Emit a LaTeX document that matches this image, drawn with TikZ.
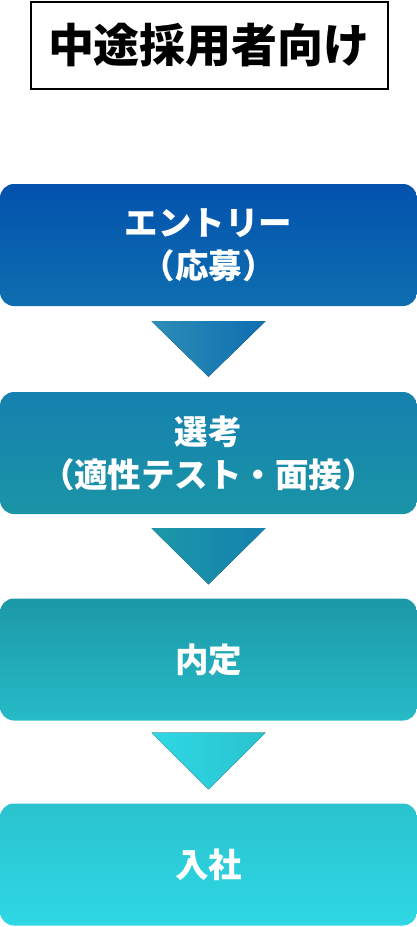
\documentclass[tikz,border=0pt]{standalone}
\usepackage{fontspec}
\newfontfamily\jpfont{Noto Sans CJK JP}
\usetikzlibrary{calc}
\definecolor{bOneTop}{HTML}{0352AD}
\definecolor{bOneBot}{HTML}{0E6EB0}
\definecolor{bTwoTop}{HTML}{1581AF}
\definecolor{bTwoBot}{HTML}{1A94A6}
\definecolor{bThreeTop}{HTML}{1C98A8}
\definecolor{bThreeBot}{HTML}{26BBC7}
\definecolor{bFourTop}{HTML}{2AC3CF}
\definecolor{bFourBot}{HTML}{2ED8E4}
\tikzset{
  stepbox/.style={rounded corners=14pt, minimum width=417pt, minimum height=122pt,
    text=white, align=center, inner sep=0pt,
    font=\jpfont\bfseries\fontsize{33.5}{43}\selectfont},
  titlebox/.style={draw=black, line width=2pt, minimum width=357pt, minimum height=87pt,
    inner sep=0pt, font=\jpfont\bfseries\fontsize{46}{50}\selectfont}
}
\begin{document}
\begin{tikzpicture}[x=1pt,y=-1pt]
    \useasboundingbox (0,0) rectangle (417,927);
    \node [titlebox] (title) at (209,45) {中途採用者向け};
    \node [stepbox, top color=bOneTop, bottom color=bOneBot] (entry) at (208.5,245) {エントリー\\（応募）};
    \node [stepbox, top color=bTwoTop, bottom color=bTwoBot] (select) at (208.5,453) {選考\\（適性テスト・面接）};
    \node [stepbox, top color=bThreeTop, bottom color=bThreeBot] (offer) at (208.5,659.5) {内定};
    \node [stepbox, top color=bFourTop, bottom color=bFourBot] (join) at (208.5,864.5) {入社};
    % arrows between the steps
    \fill [left color=bTwoTop!90!white, right color=bOneBot] ($(entry.south)+(-57,15)$)--($(entry.south)+(57,15)$)--($(select.north)+(0,-15)$)--cycle;
    \fill [left color=bThreeTop, right color=bTwoTop] ($(select.south)+(-57,14)$)--($(select.south)+(57,14)$)--($(offer.north)+(0,-14)$)--cycle;
    \fill [left color=bFourBot, right color=bFourTop] ($(offer.south)+(-57,12)$)--($(offer.south)+(57,12)$)--($(join.north)+(0,-14)$)--cycle;
  \end{tikzpicture}
\end{document}
